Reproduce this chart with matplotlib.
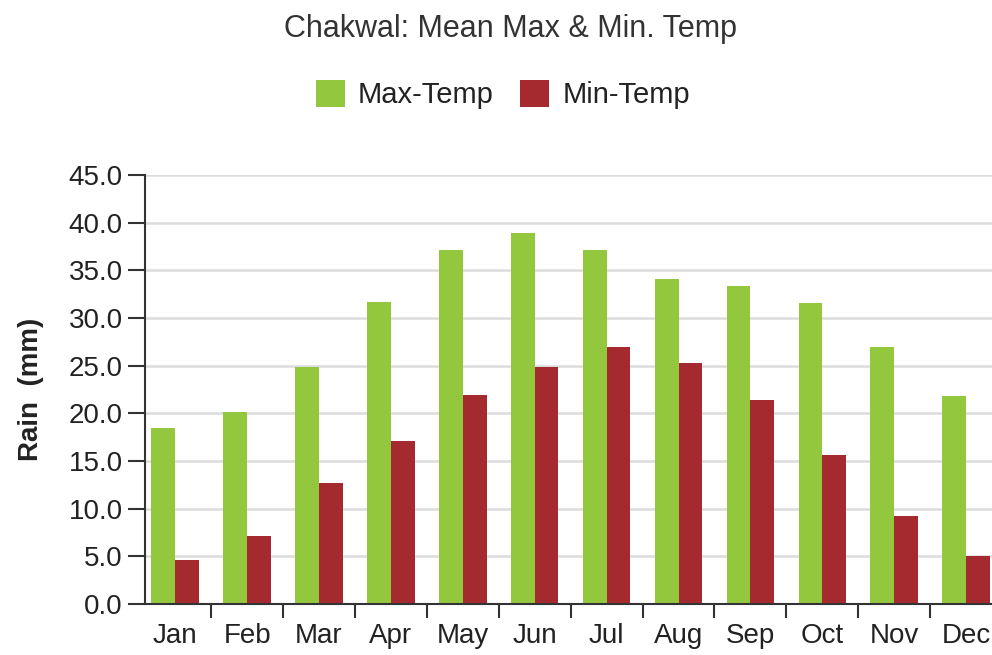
import numpy as np
import matplotlib.pyplot as plt

months = ["Jan", "Feb", "Mar", "Apr", "May", "Jun", "Jul", "Aug", "Sep", "Oct", "Nov", "Dec"]
max_temp = [18.5, 20.1, 24.9, 31.7, 37.1, 38.9, 37.1, 34.1, 33.4, 31.6, 27.0, 21.8]
min_temp = [4.6, 7.1, 12.7, 17.1, 21.9, 24.9, 27.0, 25.3, 21.4, 15.6, 9.2, 5.0]
yticks = np.arange(0, 45.1, 5)

GREEN = "#93c83e"
RED = "#a52a30"

plt.rcParams["font.family"] = ["Liberation Sans", "DejaVu Sans"]

fig = plt.figure(figsize=(9.92, 6.55), dpi=100)
ax = fig.add_axes([145 / 992, 51 / 655, 847 / 992, 429 / 655])

x = np.arange(len(months))
w = 0.33
ax.bar(x - w / 2, max_temp, w, color=GREEN, label="Max-Temp", zorder=2)
ax.bar(x + w / 2, min_temp, w, color=RED, label="Min-Temp", zorder=2)

ax.set_xlim(-0.42, 11.36)
ax.set_ylim(0, 45)
ax.set_yticks(yticks)
ax.set_yticklabels([f"{v:.1f}" for v in yticks], fontsize=20, color="#222222")
ax.set_xticks(x)
ax.set_xticklabels(months, fontsize=20, color="#222222")
ax.set_xticks(np.arange(0.5, 11, 1), minor=True)
ax.tick_params(axis="x", which="major", length=0, pad=14)
ax.tick_params(axis="x", which="minor", length=10, width=1.5, direction="out", color="#333333")
ax.tick_params(axis="y", length=12, width=1.5, direction="out", color="#333333", pad=4)

ax.grid(axis="y", color="#dcdcdc", linewidth=1.8, zorder=0)
for s in ["top", "right"]:
    ax.spines[s].set_visible(False)
for s in ["left", "bottom"]:
    ax.spines[s].set_linewidth(1.5)
    ax.spines[s].set_color("#333333")

ax.set_ylabel("Rain  (mm)", fontsize=20, fontweight="bold", color="#222222", labelpad=18)

fig.text(0.515, 0.955, "Chakwal: Mean Max & Min. Temp", ha="center", va="center",
         fontsize=22, color="#333333")
fig.legend(loc="center", bbox_to_anchor=(0.507, 0.855), ncol=2, frameon=False,
           fontsize=21, handlelength=1.0, handleheight=1.0, handletextpad=0.45,
           columnspacing=0.9, labelcolor="#222222")

fig.savefig("out.png", dpi=100)
